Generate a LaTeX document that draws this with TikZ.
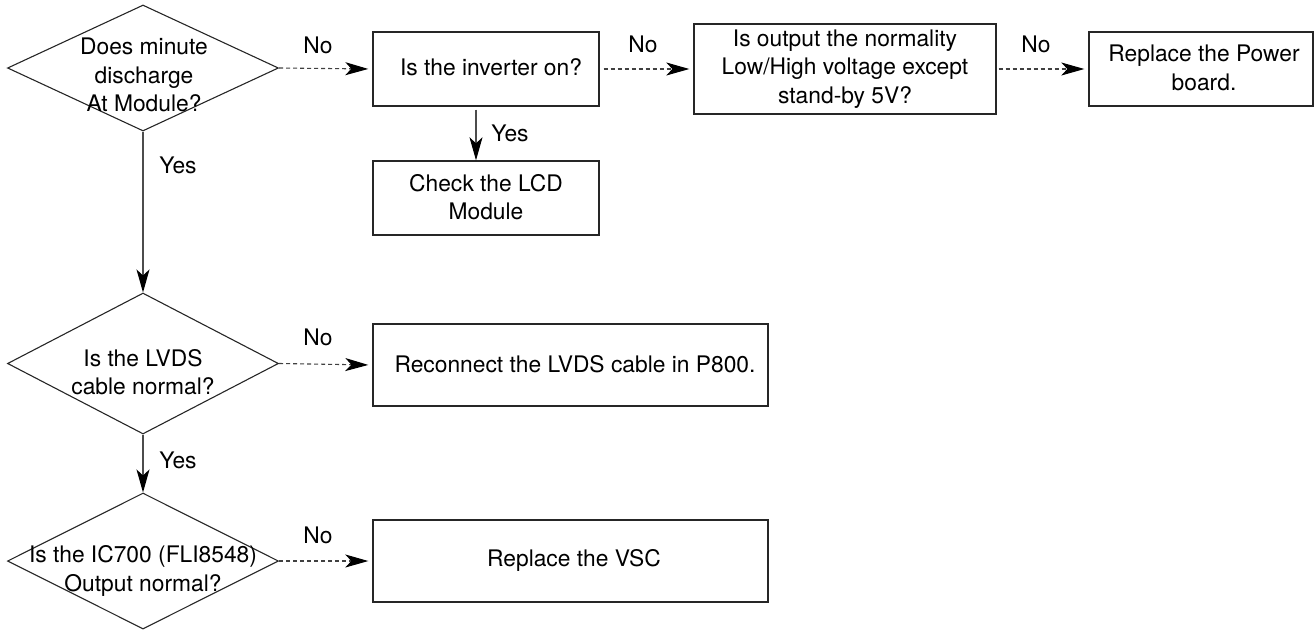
\documentclass[tikz,border=0pt]{standalone}
\usepackage{fontspec}
\setmainfont{TeX Gyre Heros}
\usetikzlibrary{shapes.geometric,arrows.meta}
\begin{document}
\begin{tikzpicture}[x=0.5pt,y=-0.5pt,
  font=\fontsize{11.4}{14.25}\selectfont,
  dec/.style={diamond,draw=black!85,line width=0.55pt,inner sep=0pt,minimum width=135.5pt},
  box/.style={rectangle,draw=black!85,line width=0.7pt,inner sep=0pt,align=center},
  txt/.style={align=center,inner sep=0pt},
  tip/.style={-{Stealth[length=11.5pt,width=6.5pt,inset=3pt,black]}},
  noarr/.style={draw=black!75,line width=0.55pt,dash pattern=on 2pt off 1.5pt,tip,shorten >=2pt},
  yesarr/.style={draw=black!70,line width=0.55pt,tip},
  lab/.style={inner sep=0pt}]
\useasboundingbox (0,0) rectangle (1315,632);
% decisions
\node[dec,minimum height=63pt] (d1) at (143,68) {};
\node[txt] at (144,75) {Does minute\\discharge\\At Module?};
\node[dec,minimum height=70.5pt] (d2) at (143,363.5) {};
\node[txt] at (143,372) {Is the LVDS\\cable normal?};
\node[dec,minimum height=68pt] (d3) at (143,561) {};
\node[txt] at (143,571) {Is the IC700 (FLI8548)\\Output normal?};
% boxes
\node[box,minimum width=113pt,minimum height=37pt] (b1) at (486,69) {};
\node[txt] at (491,67) {Is the inverter on?};
\node[box,minimum width=113pt,minimum height=37pt] (b1y) at (486,198) {};
\node[txt] at (486,197) {Check the LCD\\Module};
\node[box,minimum width=151pt,minimum height=45pt] (b2) at (845,69) {};
\node[txt] at (845,69) {Is output the normality\\Low/High voltage except\\stand-by 5V?};
\node[box,minimum width=112pt,minimum height=37pt] (b3) at (1201,69) {};
\node[txt] at (1204,68) {Replace the Power\\board.};
\node[box,minimum width=197.5pt,minimum height=41pt] (b4) at (570.5,365) {};
\node[txt] at (575,364) {Reconnect the LVDS cable in P800.};
\node[box,minimum width=197.5pt,minimum height=41pt] (b5) at (570.5,561) {};
\node[txt] at (574,560) {Replace the VSC};
% connectors
\draw[noarr] (d1.east) -- (b1.west);
\draw[noarr] ([xshift=2pt]b1.east) -- (b2.west);
\draw[noarr] ([xshift=1pt]b2.east) -- (b3.west);
\draw[noarr] (d2.east) -- (b4.west);
\draw[noarr] (d3.east) -- (b5.west);
\coordinate (b1s) at ([xshift=-5pt,yshift=-1.5pt]b1.south);
\draw[yesarr] (b1s) -- (b1s |- b1y.north);
\draw[yesarr] (d1.south) -- (d2.north);
\draw[yesarr] (d2.south) -- (d3.north);
% labels
\node[lab] at (318,45) {No};
\node[lab] at (643,44) {No};
\node[lab] at (1036,44) {No};
\node[lab] at (318,337) {No};
\node[lab] at (318,535) {No};
\node[lab] at (178,165) {Yes};
\node[lab] at (510,133) {Yes};
\node[lab] at (178,460) {Yes};
\end{tikzpicture}
\end{document}
